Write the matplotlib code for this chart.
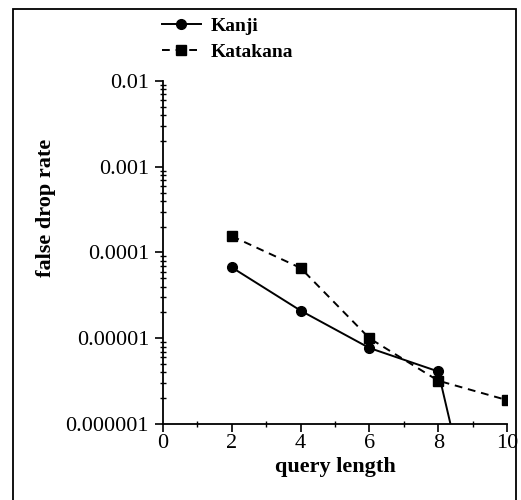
import numpy as np
import matplotlib
matplotlib.use("Agg")
import matplotlib.pyplot as plt
from matplotlib.patches import Rectangle
from matplotlib.ticker import FixedLocator, LogLocator, NullFormatter

plt.rcParams['font.family'] = ['Liberation Serif', 'DejaVu Serif']

query_length = [2, 4, 6, 8, 10]
kanji = [6.7e-5, 2.1e-5, 7.7e-6, 4.1e-6, 1.5e-9]
katakana = [1.55e-4, 6.6e-5, 1.0e-5, 3.2e-6, 1.9e-6]

y_ticks = [1e-6, 1e-5, 1e-4, 1e-3, 1e-2]
y_labels = ["0.000001", "0.00001", "0.0001", "0.001", "0.01"]
x_ticks = [0, 2, 4, 6, 8, 10]

fig = plt.figure(figsize=(5.21, 5.0), dpi=100)
ax = fig.add_axes([163 / 521, 76 / 500, 344 / 521, 343 / 500])

ax.plot(query_length, kanji, '-', color='black', marker='o', markersize=7, lw=1.4, label="Kanji")
ax.plot(query_length, katakana, '--', color='black', marker='s', markersize=7, lw=1.4,
        dashes=(4, 3), label="Katakana")

ax.set_yscale('log')
ax.set_ylim(1e-6, 1e-2)
ax.set_xlim(0, 10)
ax.set_yticks(y_ticks)
ax.set_yticklabels(y_labels)
ax.yaxis.set_minor_locator(LogLocator(base=10, subs=np.arange(2, 10)))
ax.yaxis.set_minor_formatter(NullFormatter())
ax.set_xticks(x_ticks)
ax.xaxis.set_minor_locator(FixedLocator([1, 3, 5, 7, 9]))

ax.spines['top'].set_visible(False)
ax.spines['right'].set_visible(False)
ax.spines['left'].set_linewidth(1.3)
ax.spines['bottom'].set_linewidth(1.3)
ax.tick_params(which='major', direction='out', length=6, width=1.2, labelsize=16, colors='black')
ax.tick_params(which='minor', direction='inout', length=4, width=1.0)
ax.tick_params(axis='y', which='major', pad=4)
ax.tick_params(axis='x', which='major', pad=1)

ax.set_xlabel("query length", fontsize=16, fontweight='bold', labelpad=3)
ax.set_ylabel("false drop rate", fontsize=16, fontweight='bold')
ax.yaxis.set_label_coords(-0.312, 0.63)

fig.legend(*ax.get_legend_handles_labels(), loc='upper left',
           bbox_to_anchor=(162 / 521, 1 - 17 / 500), frameon=False,
           prop={'weight': 'bold', 'size': 14}, handlelength=2.0, handletextpad=0.5,
           labelspacing=0.45, borderaxespad=0, borderpad=0)

fig.patches.append(Rectangle((13 / 521, -5 / 500), 503 / 521, 496 / 500, transform=fig.transFigure,
                             fill=False, edgecolor='black', lw=1.3))

fig.savefig("out.png", dpi=100)
